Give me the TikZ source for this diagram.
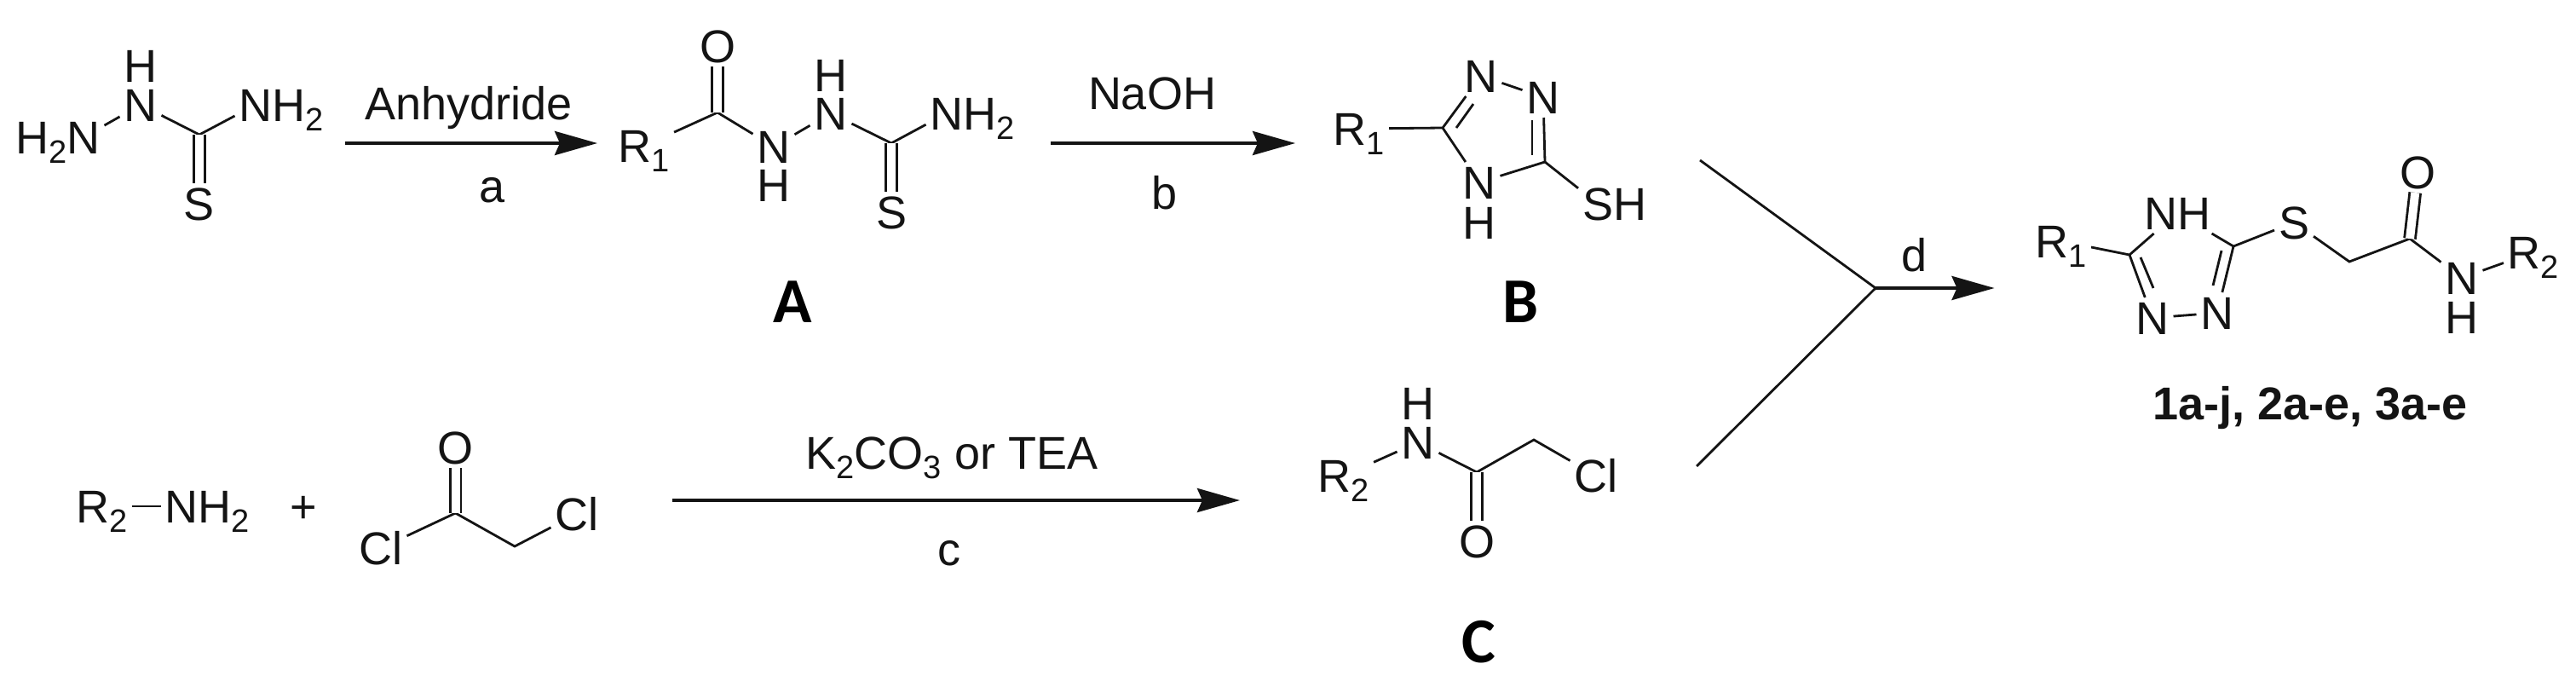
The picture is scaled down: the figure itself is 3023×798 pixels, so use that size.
\documentclass[tikz,border=0pt]{standalone}
\usepackage{fontspec}
\setmainfont{Liberation Sans}
\newfontfamily\calibrilike{Carlito}
\usetikzlibrary{arrows.meta}
\newcommand\subs[1]{\raisebox{-11pt}{\fontsize{38}{38}\selectfont #1}}
\tikzset{
  atom/.style={inner sep=5pt,outer sep=0pt,anchor=base,text height=38pt,text depth=0pt,font=\fontsize{54}{60}\selectfont,text=black!92},
  lab/.style={inner sep=0pt,outer sep=0pt,anchor=base,font=\fontsize{54}{60}\selectfont,text=black!92},
  cpd/.style={inner sep=0pt,outer sep=0pt,anchor=base,font=\calibrilike\bfseries\fontsize{75}{80}\selectfont,text=black},
  bond/.style={line width=2.8pt,draw=black!92},
  dbl/.style={line width=2.8pt,draw=black!92,double,double distance=10pt},
  yline/.style={line width=2.8pt,draw=black!92},
  rarrow/.style={line width=4pt,draw=black!92,-{Stealth[length=50pt,width=28pt,inset=6pt]}}
}
\begin{document}
\begin{tikzpicture}[x=1pt,y=-1pt]
\useasboundingbox[fill=white] (0,0) rectangle (3023,798);

% --- thiosemicarbazide
\node[atom] (s1nh) at (98,180) {\llap{H\subs{2}}N};
\node[atom] (s1n) at (165,142) {N};
\node[lab] (s1h) at (165,96) {H};
\node[atom] (s1nr) at (300,142) {N\rlap{H\subs{2}}};
\node[atom] (s1s) at (234,258) {S};
\coordinate (s1c) at (234,158);
\draw[bond] (s1nh) -- (s1n);
\draw[bond] (s1n) -- (s1c) -- (s1nr);
\draw[dbl] (s1c) -- (s1s);

% --- arrow a
\coordinate (a1) at (405,168); \coordinate (a2) at (701,168);
\draw[rarrow] (a1) -- (a2);
\node[lab] (anh) at (550,140) {Anhydride};
\node[lab] (la) at (578,237) {a};

% --- A
\node[atom] (ar) at (756,190) {R\subs{1}};
\node[atom] (ao) at (842,73) {O};
\coordinate (ac) at (842,132);
\node[atom] (an1) at (908,191) {N};
\node[lab] (ah1) at (908,236) {H};
\node[atom] (an2) at (975,152) {N};
\node[lab] (ah2) at (975,107) {H};
\coordinate (ac2) at (1046,168);
\node[atom] (as) at (1046,268) {S};
\node[atom] (anr) at (1111,152) {N\rlap{H\subs{2}}};
\draw[bond] (ar) -- (ac) -- (an1) -- (an2) -- (ac2) -- (anr);
\draw[dbl] (ac) -- (ao);
\draw[dbl] (ac2) -- (as);
\node[cpd] (lA) at (930,378) {A};

% --- arrow b
\coordinate (b1) at (1233,168); \coordinate (b2) at (1520,168);
\draw[rarrow] (b1) -- (b2);
\node[lab] (naoh) at (1352,128) {NaOH};
\node[lab] (lb) at (1367,245) {b};

% --- B
\node[atom] (br) at (1595,170) {R\subs{1}};
\coordinate (bc5) at (1693,150);
\coordinate (bc3) at (1813,190);
\node[atom] (bn1) at (1738,108) {N};
\node[atom] (bn2) at (1811,133) {N};
\node[atom] (bn4) at (1736,233) {N};
\node[lab] (bh) at (1736,280) {H};
\node[atom] (bs) at (1875,258) {S\rlap{H}};
\draw[bond] (br) -- (bc5) -- (bn1) -- (bn2);
\draw[bond] (bn2) -- (bc3) -- (bn4) -- (bc5);
\draw[bond] (bc3) -- (bs);
\coordinate (bi1) at (1709,150); \coordinate (bi2) at (1729,122);
\draw[bond] (bi1) -- (bi2);
\coordinate (bi3) at (1798,141); \coordinate (bi4) at (1798,182);
\draw[bond] (bi3) -- (bi4);
\node[cpd] (lB) at (1784,378) {B};

% --- bottom reactants
\node[atom] (r2) at (120,613) {R\subs{2}};
\node[atom] (nh2) at (213,613) {N\rlap{H\subs{2}}};
\draw[bond] (r2) -- (nh2);
\node[lab,anchor=center] (plus) at (356,598) {+};
\node[atom] (co) at (534.5,544) {O};
\coordinate (cc) at (534.5,602);
\coordinate (cm) at (604,641);
\node[atom] (ccl1) at (447,662) {Cl};
\node[atom] (ccl2) at (677,622) {Cl};
\draw[bond] (ccl1) -- (cc) -- (cm) -- (ccl2);
\draw[dbl] (cc) -- (co);

% --- arrow c
\coordinate (c1) at (789,587); \coordinate (c2) at (1455,587);
\draw[rarrow] (c1) -- (c2);
\node[lab] (k2) at (1117,550) {K\subs{2}CO\subs{3} or TEA};
\node[lab] (lc) at (1114,663) {c};

% --- C
\node[atom] (dr) at (1577,577) {R\subs{2}};
\node[atom] (dn) at (1664,538) {N};
\node[lab] (dh) at (1664,492) {H};
\coordinate (dc) at (1733,554);
\coordinate (dm) at (1800,516);
\node[atom] (do) at (1733,654) {O};
\node[atom] (dcl) at (1873,577) {Cl};
\draw[bond] (dr) -- (dn) -- (dc) -- (dm) -- (dcl);
\draw[dbl] (dc) -- (do);
\node[cpd] (lC) at (1735,777) {C};

% --- convergence
\coordinate (yu) at (1995,188);
\coordinate (yl) at (1991,547);
\coordinate (j) at (2201,338);
\coordinate (dtip) at (2340.5,338);
\draw[yline] (yu) -- (j) -- (yl);
\draw[rarrow] (j) -- (dtip);
\node[lab] (ld) at (2246,318) {d};

% --- product
\node[atom] (pr1) at (2419,302) {R\subs{1}};
\coordinate (pc5) at (2499,299);
\coordinate (pc3) at (2621,289);
\node[atom] (pnh) at (2555,269) {NH};
\node[atom] (pn1) at (2526,392) {N};
\node[atom] (pn2) at (2602,386) {N};
\node[atom] (ps) at (2692,280) {S};
\coordinate (pm) at (2757,307);
\coordinate (pc) at (2828,280);
\node[atom] (po) at (2837,221) {O};
\node[atom] (pn) at (2889,345) {N};
\node[lab] (ph) at (2889,391) {H};
\node[atom] (pr2) at (2973,315) {R\subs{2}};
\draw[bond] (pr1) -- (pc5) -- (pnh) -- (pc3) -- (ps) -- (pm) -- (pc) -- (pn) -- (pr2);
\draw[bond] (pc5) -- (pn1) -- (pn2) -- (pc3);
\coordinate (pi1) at (2512,302); \coordinate (pi2) at (2527,338);
\draw[bond] (pi1) -- (pi2);
\coordinate (pi3) at (2607,294); \coordinate (pi4) at (2597,335);
\draw[bond] (pi3) -- (pi4);
\draw[dbl] (pc) -- (po);
\node[lab,font=\bfseries\fontsize{54}{60}\selectfont] (names) at (2711,492) {1a-j, 2a-e, 3a-e};
\end{tikzpicture}
\end{document}
